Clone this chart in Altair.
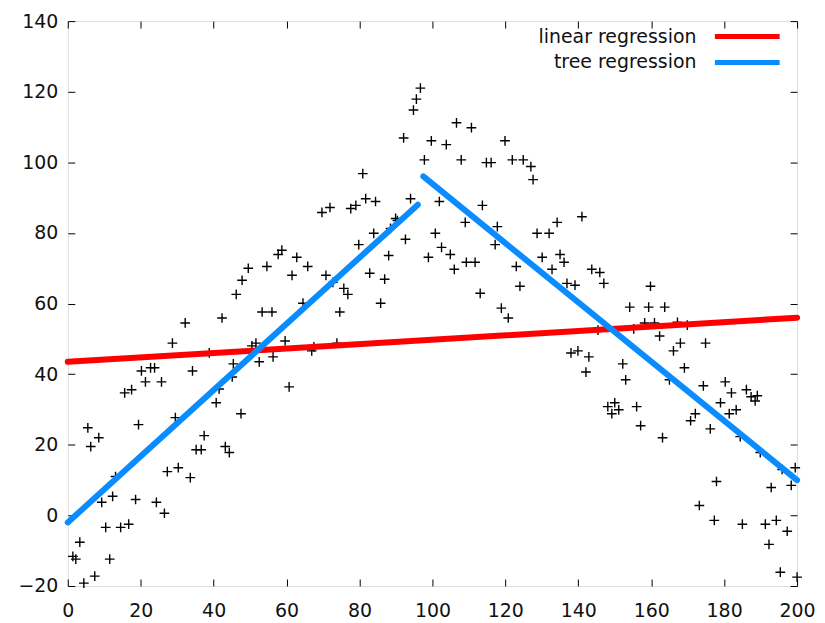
import altair as alt
import pandas as pd

# Scatter data
scatter_x = [1.4, 2.2, 3.3, 4.4, 5.5, 6.3, 7.4, 8.5, 9.3, 10.4, 11.5, 12.3, 13.1, 14.5, 15.6, 16.7,
             17.5, 18.6, 19.4, 20.2, 21.3, 22.7, 23.8, 24.3, 25.7, 26.5, 27.3, 28.7, 29.5, 30.3,
             32.2, 33.6, 34.2, 35.2, 36.6, 37.4, 38.8, 40.7, 41.5, 42.3, 43.2, 44.3, 45.1, 45.4,
             46.2, 47.5, 47.8, 49.5, 50.5, 51.6, 52.5, 56.3, 53.3, 56.0, 54.6, 57.7, 58.7, 60.7,
             59.6, 61.5, 62.8, 64.5, 65.8, 67.5, 66.9, 70.8, 69.7, 71.9, 72.7, 73.8, 74.6, 75.7,
             76.8, 77.6, 79.0, 79.8, 80.9, 81.7, 82.8, 83.9, 84.4, 85.8, 86.9, 88.0, 88.5, 89.9,
             90.4, 92.1, 92.6, 94.0, 94.8, 95.6, 96.7, 97.8, 98.9, 99.7, 100.8, 101.9, 102.5,
             103.8, 104.9, 106.0, 106.6, 107.9, 109.0, 109.3, 110.7, 111.7, 113.1, 113.7, 114.8,
             116.1, 117.2, 117.8, 119.9, 123.0, 121.9, 124.0, 124.9, 127.0, 127.6, 118.9, 120.8,
             128.7, 130.1, 132.0, 132.8, 134.2, 135.0, 136.1, 136.9, 139.1, 138.0, 139.9, 141.0,
             142.1, 142.9, 143.7, 145.9, 145.4, 147.0, 148.1, 150.0, 151.1, 149.2, 152.2, 153.0,
             154.1, 155.2, 156.0, 157.1, 158.2, 159.3, 159.8, 160.9, 162.3, 163.1, 163.7, 165.0,
             166.1, 167.2, 168.0, 169.1, 169.9, 170.8, 172.1, 173.2, 174.3, 174.9, 176.2, 177.3,
             177.9, 179.0, 180.3, 182.0, 183.3, 181.4, 184.4, 185.0, 186.1, 187.4, 188.5, 189.1,
             189.9, 191.3, 192.3, 192.9, 194.3, 195.4, 195.9, 197.3, 198.4, 199.5, 200.0]
scatter_y = [-11.6, -12.4, -7.6, -19.2, 24.8, 19.5, -17.2, 22.0, 3.7, -3.4, -12.4, 5.4, 11.0, -3.4,
             34.7, -2.5, 35.6, 4.5, 25.7, 40.9, 37.8, 41.8, 41.8, 3.7, 37.8, 0.6, 12.4, 48.8, 27.7,
             13.5, 54.5, 10.7, 40.9, 18.6, 18.6, 22.6, 46.0, 31.9, 35.8, 55.9, 19.5, 17.8, 39.2,
             42.9, 62.6, 28.8, 66.6, 70.0, 48.0, 48.8, 43.5, 44.9, 57.6, 57.6, 70.5, 73.9, 75.1,
             36.4, 49.4, 68.0, 73.1, 60.1, 70.5, 47.7, 46.6, 68.0, 85.8, 87.2, 66.0, 48.8, 57.6,
             64.3, 62.6, 86.9, 87.8, 76.7, 96.8, 89.7, 68.6, 79.9, 88.9, 60.1, 66.9, 73.6, 81.3,
             84.1, 83.5, 106.9, 78.2, 89.7, 114.8, 117.9, 121.0, 100.7, 73.1, 106.1, 79.9, 88.9,
             75.9, 105.0, 73.9, 69.7, 111.2, 100.7, 83.0, 71.7, 109.8, 71.7, 62.9, 87.8, 99.9,
             99.9, 76.7, 81.8, 106.1, 70.5, 100.7, 64.9, 100.7, 98.8, 95.1, 58.7, 55.9, 79.9,
             73.1, 79.9, 69.7, 83.0, 73.9, 71.7, 65.7, 65.2, 46.0, 46.6, 84.6, 40.6, 44.9, 69.7,
             68.8, 52.5, 65.7, 30.8, 31.9, 29.9, 28.8, 42.9, 38.4, 59.0, 52.8, 30.8, 25.4, 54.5,
             59.0, 64.9, 54.5, 50.8, 22.0, 59.0, 38.4, 46.6, 54.7, 48.8, 41.8, 53.9, 26.8, 28.8,
             2.8, 36.7, 48.8, 24.5, -1.4, 9.6, 31.9, 37.8, 34.7, 29.9, 28.8, 22.3, -2.5, 35.6,
             33.6, 32.4, 33.9, 17.8, -2.5, -8.2, 7.9, -1.4, -16.1, 13.0, -4.5, 8.5, 13.5, -17.5]

# Regression lines
lin_name = "linear regression"
lin_color = "#ff0000"
lin_x = [0, 200]
lin_y = [43.5, 56.0]

tree_name = "tree regression"
tree_color = "#0a8cff"
tree_segment = ["t1", "t1", "t2", "t2"]
tree_x = [0, 96, 97.5, 200]
tree_y = [-2.0, 88.0, 96.0, 10.0]

x_ticks = list(range(0, 201, 20))
y_ticks = list(range(-20, 141, 20))

pts = pd.DataFrame({"x": scatter_x, "y": scatter_y})
lin_df = pd.DataFrame({"x": lin_x, "y": lin_y, "series": [lin_name] * len(lin_x)})
tree_df = pd.DataFrame({"x": tree_x, "y": tree_y, "series": [tree_name] * len(tree_x),
                        "seg": tree_segment})

FONT = "DejaVu Sans"
FS = 19
TICK = 7

xs = alt.Scale(domain=[0, 200], nice=False, zero=False)
ys = alt.Scale(domain=[-20, 140], nice=False, zero=False)

common_axis = dict(domain=False, grid=False, tickSize=TICK, offset=-TICK, tickColor="#000",
                   tickWidth=1, labelFont=FONT, labelFontSize=FS, labelColor="#111", title=None)


def legend_at(y):
    return alt.Legend(orient="none", legendX=647, legendY={"expr": str(y)}, title=None,
                      symbolType="stroke", symbolSize=4225, symbolStrokeWidth=5,
                      labelAlign="right", labelOffset={"expr": "-86"},
                      labelFont=FONT, labelFontSize=FS, labelColor="#111",
                      labelLimit=400, padding=0)


points = alt.Chart(pts).mark_point(
    shape="M-1,0H1M0,-1V1", filled=False, stroke="#000", strokeWidth=1.4, size=95, opacity=1
).encode(
    x=alt.X("x:Q", scale=xs, axis=alt.Axis(orient="bottom", values=x_ticks, labelPadding=16,
                                             labelFlush=False, **common_axis)),
    y=alt.Y("y:Q", scale=ys, axis=alt.Axis(orient="left", values=y_ticks, labelPadding=10,
                                             labelFlush=False, **common_axis)),
)

lin = alt.Chart(lin_df).mark_line(strokeWidth=6, strokeCap="round").encode(
    x=alt.X("x:Q", scale=xs, axis=alt.Axis(orient="top", values=x_ticks, labels=False, **common_axis)),
    y=alt.Y("y:Q", scale=ys, axis=alt.Axis(orient="right", values=y_ticks, labels=False, **common_axis)),
    stroke=alt.Stroke("series:N", scale=alt.Scale(domain=[lin_name], range=[lin_color]),
                      legend=legend_at(-19.5)),
)

tree = alt.Chart(tree_df).mark_line(strokeWidth=6, strokeCap="round").encode(
    x=alt.X("x:Q", scale=xs, axis=None),
    y=alt.Y("y:Q", scale=ys, axis=None),
    color=alt.Color("series:N", scale=alt.Scale(domain=[tree_name], range=[tree_color]),
                    legend=legend_at(6.5)),
    detail="seg:N",
)

chart = alt.layer(points, lin, tree).resolve_axis(x="independent", y="independent").properties(
    width=732, height=567,
    autosize=alt.AutoSizeParams(type="none"),
    padding={"left": 60, "top": 12, "right": 20, "bottom": 35},
).configure_view(stroke="#000", strokeWidth=1).configure(background="white")

chart.save("out.html", embed_options={"renderer": "svg", "actions": False})
